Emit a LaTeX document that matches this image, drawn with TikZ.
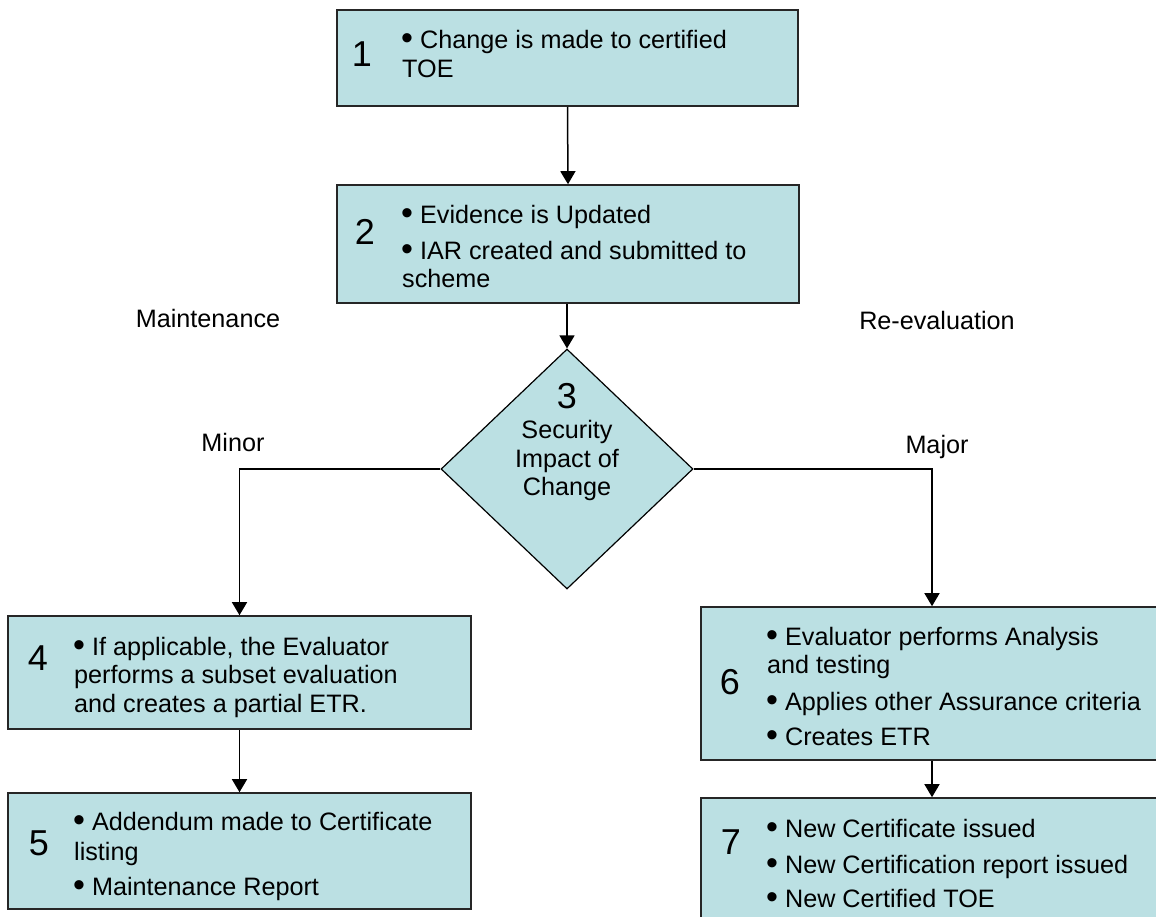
\documentclass[tikz,border=0pt]{standalone}
\usepackage{fontspec}
\setmainfont{Liberation Sans}
\usetikzlibrary{shapes.geometric,arrows.meta}
\definecolor{boxfill}{RGB}{187,224,227}
\newcommand{\bl}{\raisebox{-1pt}{\fontsize{34}{34}\selectfont\textbullet}\ }
\begin{document}
\begin{tikzpicture}[x=1pt,y=-1pt,
  box/.style={draw=black!85,line width=1.6pt,fill=boxfill,inner sep=0pt,rectangle},
  dia/.style={draw=black,line width=1.2pt,fill=boxfill,diamond,inner sep=0pt},
  txt/.style={anchor=base west,inner sep=0pt,font=\fontsize{25.2}{29}\selectfont},
  num/.style={inner sep=0pt,font=\fontsize{36}{40}\selectfont},
  lbl/.style={anchor=base,inner sep=0pt,font=\fontsize{25.2}{29}\selectfont},
  arr/.style={line width=1.5pt,-{Triangle[length=13pt,width=15pt]}}]
\useasboundingbox (0,0) rectangle (1156,916);
\clip (0,0) rectangle (1156,916);
% boxes
\node[box,minimum width=461pt,minimum height=96pt] (b1) at (567.5,58) {};
\node[box,minimum width=462pt,minimum height=118pt] (b2) at (568,244) {};
\node[dia,minimum width=252pt,minimum height=240pt] (dia) at (567,469) {};
\node[box,minimum width=463pt,minimum height=113pt] (b4) at (239.5,672.5) {};
\node[box,minimum width=463pt,minimum height=116pt] (b5) at (239.5,851) {};
\node[box,minimum width=469pt,minimum height=153pt] (b6) at (935.5,683.5) {};
\node[box,minimum width=469pt,minimum height=132pt] (b7) at (935.5,864) {};
% connectors
\draw[arr] (b1.south) -- (b2.north);
\draw[arr] (b2.south -| dia.north) -- (dia.north);
\draw[arr] (dia.west) -| (b4.north);
\draw[arr] (dia.east) -| ([xshift=-3.5pt]b6.north);
\draw[arr] (b4.south) -- (b5.north);
\draw[arr] ([xshift=-3.5pt]b6.south) -- ([xshift=-3.5pt]b7.north);
% box 1
\node[num] (n1) at (362,54.5) {1};
\node[txt] (t1a) at (401,48) {\bl Change is made to certified};
\node[txt] (t1b) at (402,77) {TOE};
% box 2
\node[num] (n2) at (365,231.5) {2};
\node[txt] (t2a) at (401,223) {\bl Evidence is Updated};
\node[txt] (t2b) at (401,259) {\bl IAR created and submitted to};
\node[txt] (t2c) at (402,287) {scheme};
% diamond
\node[num] (n3) at (567,396.5) {3};
\node[lbl] (t3a) at (567,438) {Security};
\node[lbl] (t3b) at (567,467) {Impact of};
\node[lbl] (t3c) at (567,495) {Change};
% labels
\node[lbl] (lm) at (208,327) {Maintenance};
\node[lbl] (lr) at (937,329) {Re-evaluation};
\node[lbl] (lmi) at (233,451) {Minor};
\node[lbl] (lma) at (937,453) {Major};
% box 4
\node[num] (n4) at (38,658) {4};
\node[txt] (t4a) at (73,655) {\bl If applicable, the Evaluator};
\node[txt] (t4b) at (74,683) {performs a subset evaluation};
\node[txt] (t4c) at (74,712) {and creates a partial ETR.};
% box 5
\node[num] (n5) at (39,843) {5};
\node[txt] (t5a) at (73,830) {\bl Addendum made to Certificate};
\node[txt] (t5b) at (74,860) {listing};
\node[txt] (t5c) at (73,895) {\bl Maintenance Report};
% box 6
\node[num] (n6) at (730,682) {6};
\node[txt] (t6a) at (766,645) {\bl Evaluator performs Analysis};
\node[txt] (t6b) at (767,673) {and testing};
\node[txt] (t6c) at (766,710) {\bl Applies other Assurance criteria};
\node[txt] (t6d) at (766,745) {\bl Creates ETR};
% box 7
\node[num] (n7) at (731,842) {7};
\node[txt] (t7a) at (766,837) {\bl New Certificate issued};
\node[txt] (t7b) at (766,873) {\bl New Certification report issued};
\node[txt] (t7c) at (766,907) {\bl New Certified TOE};
\end{tikzpicture}
\end{document}
